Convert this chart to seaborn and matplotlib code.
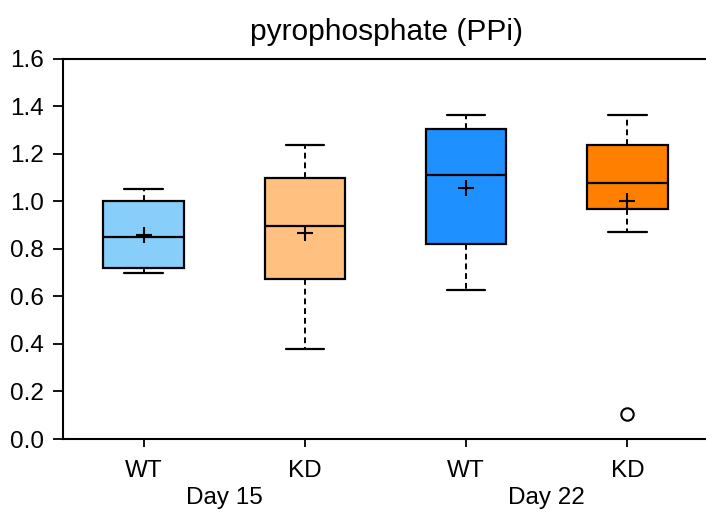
import matplotlib
matplotlib.use("Agg")
import matplotlib.pyplot as plt
import seaborn as sns
import pandas as pd

# data
groups = ["WT", "KD", "WT", "KD"]
days = ["Day 15", "Day 15", "Day 22", "Day 22"]
whisker_low = [0.698, 0.380, 0.627, 0.870]
q1 = [0.719, 0.672, 0.818, 0.967]
median = [0.849, 0.895, 1.112, 1.078]
q3 = [1.000, 1.099, 1.305, 1.235]
whisker_high = [1.050, 1.237, 1.361, 1.361]
means = [0.859, 0.866, 1.057, 1.002]
outlier_pos = [3]
outlier_val = [0.105]
colors = ["#87CEFA", "#FFC080", "#1E90FF", "#FF8000"]
yticks = [0.0, 0.2, 0.4, 0.6, 0.8, 1.0, 1.2, 1.4, 1.6]

sns.set_theme(style="ticks")
plt.rcParams["font.family"] = ["Liberation Sans", "DejaVu Sans"]
plt.rcParams["text.color"] = "black"

fig = plt.figure(figsize=(7.06, 5.12), dpi=100)
ax = fig.add_axes([63 / 706, 1 - 439 / 512, 645 / 706, (439 - 58.5) / 512])

stats = []
for i in range(len(groups)):
    stats.append({
        "whislo": whisker_low[i], "q1": q1[i], "med": median[i],
        "q3": q3[i], "whishi": whisker_high[i], "mean": means[i],
        "fliers": [], "label": groups[i],
    })

bp = ax.bxp(stats, positions=range(len(groups)), widths=0.5, patch_artist=True,
            showmeans=False, showfliers=False,
            boxprops=dict(linewidth=1.6, edgecolor="black"),
            medianprops=dict(color="black", linewidth=1.6),
            whiskerprops=dict(color="black", linewidth=1.4, linestyle=(0, (3, 2))),
            capprops=dict(color="black", linewidth=1.6),
            capwidths=0.24)
for patch, c in zip(bp["boxes"], colors):
    patch.set_facecolor(c)

mean_df = pd.DataFrame({"x": range(len(groups)), "y": means})
sns.scatterplot(data=mean_df, x="x", y="y", marker="+", s=130, color="black",
                linewidth=1.5, ax=ax, zorder=5)
out_df = pd.DataFrame({"x": outlier_pos, "y": outlier_val})
ax.scatter(out_df["x"], out_df["y"], marker="o", s=80, facecolors="white",
           edgecolors="black", linewidths=1.5, zorder=5)

ax.set_xlim(-0.5, 3.5)
ax.set_ylim(0, 1.6)
ax.set_yticks(yticks)
ax.set_yticklabels([f"{v:.1f}" for v in yticks])
ax.set_xticks(range(len(groups)))
ax.set_xticklabels(groups)
ax.set_xlabel("")
ax.set_ylabel("")
for s in ["left", "bottom", "top"]:
    ax.spines[s].set_visible(True)
    ax.spines[s].set_linewidth(1.5)
    ax.spines[s].set_color("black")
ax.spines["right"].set_visible(False)
ax.tick_params(axis="y", length=7, width=1.3, labelsize=17.5, pad=7, colors="black")
ax.tick_params(axis="x", length=6, width=1.3, labelsize=17.5, pad=9, colors="black")

for d in ["Day 15", "Day 22"]:
    idx = [i for i, v in enumerate(days) if v == d]
    xc = sum(idx) / len(idx)
    ax.text(xc, -0.155, d, transform=ax.get_xaxis_transform(), ha="center",
            va="center", fontsize=17.5, color="black")

fig.text(386 / 706, 1 - 32 / 512, "pyrophosphate (PPi)", ha="center", va="center",
         fontsize=21.5, color="black")

fig.savefig("out.png", dpi=100)
